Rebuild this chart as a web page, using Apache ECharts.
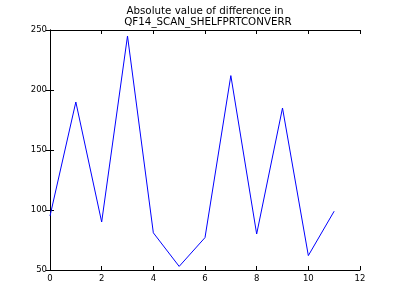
<!DOCTYPE html>
<html>
<head>
<meta charset="utf-8">
<script src="https://cdn.jsdelivr.net/npm/echarts@6/dist/echarts.min.js"></script>
<style>html,body{margin:0;padding:0;background:#fff;}#c{width:400px;height:300px;}</style>
</head>
<body>
<div id="c"></div>
<script>
var xValues = [0, 1, 2, 3, 4, 5, 6, 7, 8, 9, 10, 11];
var yValues = [95, 190, 90, 245, 81, 53, 77, 212, 80, 185, 62, 99];
var titleLines = ['Absolute value of difference in', 'QF14_SCAN_SHELFPRTCONVERR'];

var chart = echarts.init(document.getElementById('c'), null, {renderer: 'canvas'});
var font = 'DejaVu Sans';
var axisCommon = {
  axisLine: {show: true, lineStyle: {color: '#000', width: 1}},
  axisTick: {show: true, inside: true, length: 4, lineStyle: {color: '#000', width: 1}},
  splitLine: {show: false}
};
chart.setOption({
  animation: false,
  graphic: [
    {type: 'text', x: 205, y: 6, z: 10,
     style: {text: titleLines[0], textAlign: 'center', textVerticalAlign: 'top',
             fontFamily: font, fontSize: 10.3, fill: '#000'}},
    {type: 'text', x: 208, y: 17, z: 10,
     style: {text: titleLines[1], textAlign: 'center', textVerticalAlign: 'top',
             fontFamily: font, fontSize: 10.3, fill: '#000'}}
  ],
  grid: {left: 50, right: 40, top: 30, bottom: 30, show: false},
  xAxis: [
    Object.assign({type: 'value', min: 0, max: 12, interval: 2, position: 'bottom',
      axisLabel: {fontFamily: font, fontSize: 8.5, color: '#000', margin: 4}}, axisCommon),
    Object.assign({type: 'value', min: 0, max: 12, interval: 2, position: 'top',
      axisLabel: {show: false}}, axisCommon)
  ],
  yAxis: [
    Object.assign({type: 'value', min: 50, max: 250, interval: 50, position: 'left',
      axisLabel: {fontFamily: font, fontSize: 8.5, color: '#000', margin: 3}}, axisCommon),
    Object.assign({type: 'value', min: 50, max: 250, interval: 50, position: 'right',
      axisLabel: {show: false}}, axisCommon)
  ],
  series: [{
    type: 'line',
    data: xValues.map(function (x, i) { return [x, yValues[i]]; }),
    showSymbol: false,
    symbol: 'none',
    lineStyle: {color: '#0000ff', width: 1}
  }]
});
</script>
</body>
</html>
